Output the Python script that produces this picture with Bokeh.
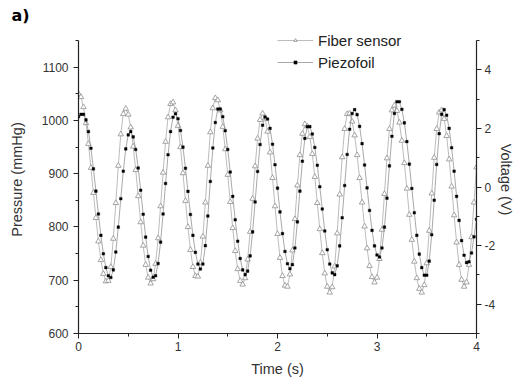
from bokeh.plotting import figure
from bokeh.models import (Range1d, LinearAxis, SingleIntervalTicker, Legend,
                          LegendItem, CustomJSTickFormatter)
from bokeh.embed import file_html
from bokeh.resources import INLINE

# ---------------- data ----------------
time_s = [
    0.0, 0.025, 0.05, 0.075, 0.1, 0.125, 0.15, 0.175, 0.2, 0.225,
    0.25, 0.275, 0.3, 0.325, 0.35, 0.375, 0.4, 0.425, 0.45, 0.475,
    0.5, 0.525, 0.55, 0.575, 0.6, 0.625, 0.65, 0.675, 0.7, 0.725,
    0.75, 0.775, 0.8, 0.825, 0.85, 0.875, 0.9, 0.925, 0.95, 0.975,
    1.0, 1.025, 1.05, 1.075, 1.1, 1.125, 1.15, 1.175, 1.2, 1.225,
    1.25, 1.275, 1.3, 1.325, 1.35, 1.375, 1.4, 1.425, 1.45, 1.475,
    1.5, 1.525, 1.55, 1.575, 1.6, 1.625, 1.65, 1.675, 1.7, 1.725,
    1.75, 1.775, 1.8, 1.825, 1.85, 1.875, 1.9, 1.925, 1.95, 1.975,
    2.0, 2.025, 2.05, 2.075, 2.1, 2.125, 2.15, 2.175, 2.2, 2.225,
    2.25, 2.275, 2.3, 2.325, 2.35, 2.375, 2.4, 2.425, 2.45, 2.475,
    2.5, 2.525, 2.55, 2.575, 2.6, 2.625, 2.65, 2.675, 2.7, 2.725,
    2.75, 2.775, 2.8, 2.825, 2.85, 2.875, 2.9, 2.925, 2.95, 2.975,
    3.0, 3.025, 3.05, 3.075, 3.1, 3.125, 3.15, 3.175, 3.2, 3.225,
    3.25, 3.275, 3.3, 3.325, 3.35, 3.375, 3.4, 3.425, 3.45, 3.475,
    3.5, 3.525, 3.55, 3.575, 3.6, 3.625, 3.65, 3.675, 3.7, 3.725,
    3.75, 3.775, 3.8, 3.825, 3.85, 3.875, 3.9, 3.925, 3.95, 3.975,
    4.0,
]

fiber_mmHg = [
    1050, 1044, 1025, 995, 956, 911, 864, 817, 773, 738, 712, 698,
    699, 725, 778, 845, 915, 974, 1012,
    1022, 1011, 987, 951, 907, 858, 809, 765, 729, 705, 694,
    702, 731, 779, 839, 902, 960, 1006, 1031,
    1034, 1019, 990, 950, 901, 849, 800, 757, 725, 708,
    707, 733, 782, 846, 915, 978, 1023, 1042,
    1038, 1019, 988, 946, 898, 847, 798, 755, 721, 699,
    692, 704, 739, 791, 853, 914, 966, 1001, 1013,
    1004, 979, 940, 892, 839, 787, 742, 708, 690,
    688, 711, 756, 815, 878, 935, 975, 993,
    989, 969, 937, 894, 845, 796, 751, 713, 688, 677,
    687, 726, 788, 861, 931, 984, 1012,
    1013, 998, 972, 935, 892, 846, 801, 760, 727, 706, 696,
    705, 740, 795, 862, 929, 984, 1019,
    1028, 1018, 996, 962, 920, 872, 823, 776, 735, 704, 684, 677,
    691, 732, 793, 863, 930, 984, 1015,
    1019, 1003, 971, 927, 876, 822, 771, 729, 701, 688,
    696, 729, 781, 846, 912,
]

piezo_V = [
    2.40, 2.48, 2.48, 2.29, 1.89, 1.32, 0.62, -0.14, -0.92, -1.65, -2.28, -2.75, -3.03,
    -3.09, -2.83, -2.22, -1.37, -0.40, 0.54, 1.30, 1.78,
    1.89, 1.71, 1.28, 0.65, -0.11, -0.93, -1.71, -2.37, -2.84, -3.08,
    -3.03, -2.61, -1.88, -0.92, 0.12, 1.10, 1.89, 2.38,
    2.50, 2.33, 1.93, 1.36, 0.64, -0.15, -0.94, -1.65, -2.23, -2.63, -2.80,
    -2.63, -2.00, -0.99, 0.19, 1.33, 2.20, 2.66,
    2.66, 2.40, 1.92, 1.28, 0.51, -0.32, -1.12, -1.85, -2.44, -2.83, -2.99,
    -2.87, -2.35, -1.53, -0.51, 0.53, 1.45, 2.11, 2.39,
    2.32, 2.00, 1.46, 0.76, -0.04, -0.85, -1.59, -2.20, -2.62, -2.79,
    -2.65, -2.08, -1.19, -0.14, 0.88, 1.66, 2.06,
    2.06, 1.81, 1.35, 0.74, 0.01, -0.75, -1.50, -2.14, -2.63, -2.93,
    -2.99, -2.69, -2.01, -1.05, 0.05, 1.11, 1.97, 2.51,
    2.64, 2.47, 2.07, 1.48, 0.75, -0.03, -0.80, -1.48, -2.01, -2.32,
    -2.39, -2.08, -1.37, -0.38, 0.72, 1.73, 2.51, 2.91,
    2.91, 2.65, 2.19, 1.55, 0.78, -0.05, -0.88, -1.65, -2.29, -2.75, -3.01,
    -3.01, -2.53, -1.63, -0.45, 0.77, 1.82, 2.48,
    2.64, 2.45, 2.00, 1.34, 0.54, -0.32, -1.14, -1.83, -2.33, -2.58,
    -2.55, -2.25, -1.70, -1.10,
]

series_labels = ["Fiber sensor", "Piezofoil"]
x_label = "Time (s)"
y_left_label = "Pressure (mmHg)"
y_right_label = "Voltage (V)"
panel_tag = "a)"
left_axis_span = (600, 1150)
right_axis_span = (-5, 5)

# ---------------- figure ----------------
FONT = "Liberation Sans"
# frame runs from y=25 to y=333; axis lines are bounded to the reference's extent
extra = 308 / 293
p = figure(width=517, height=381, output_backend="svg", toolbar_location=None,
           x_range=Range1d(0, 4),
           y_range=Range1d(600, 600 + 550 * extra),
           min_border_left=78, min_border_right=41, min_border_top=25,
           min_border_bottom=48)
p.xgrid.visible = False
p.ygrid.visible = False
p.outline_line_color = None
p.background_fill_color = "white"
p.border_fill_color = "white"

p.title.text = panel_tag
p.title.align = "left"
p.title.offset = -67
p.title.standoff = 1
p.title.text_font = "DejaVu Sans"
p.title.text_font_style = "bold"
p.title.text_font_size = "16px"
p.title.text_color = "black"

p.xaxis.ticker = SingleIntervalTicker(interval=1, num_minor_ticks=2)
p.yaxis.ticker = SingleIntervalTicker(interval=100, num_minor_ticks=2)
p.yaxis.bounds = left_axis_span
p.xaxis.axis_label = x_label
p.yaxis.axis_label = y_left_label

p.extra_y_ranges = {"volt": Range1d(-5, -5 + 10 * extra)}
ax_r = LinearAxis(y_range_name="volt",
                  ticker=SingleIntervalTicker(interval=2, num_minor_ticks=2),
                  formatter=CustomJSTickFormatter(code="return tick.toString();"),
                  axis_label=y_right_label, bounds=right_axis_span)
p.add_layout(ax_r, "right")

for ax in p.axis:
    ax.axis_line_color = "#222222"
    ax.axis_line_width = 1.2
    ax.major_tick_line_color = "#222222"
    ax.minor_tick_line_color = "#222222"
    ax.major_tick_in = 0
    ax.major_tick_out = 5
    ax.minor_tick_in = 0
    ax.minor_tick_out = 3
    ax.major_label_text_font = FONT
    ax.major_label_text_font_size = "12px"
    ax.major_label_text_color = "#333333"
    ax.axis_label_text_font = FONT
    ax.axis_label_text_font_size = "14.5px"
    ax.axis_label_text_font_style = "normal"
    ax.axis_label_text_color = "#333333"
    ax.major_label_standoff = 5

p.xaxis.axis_label_standoff = 7
p.xaxis.major_label_standoff = 3
p.yaxis[0].axis_label_standoff = 14
ax_r.major_label_standoff = 3
ax_r.axis_label_standoff = 0

fiber_line = p.line(time_s, fiber_mmHg, line_color="#ababab", line_width=0.8)
fiber_pts = p.scatter(time_s, fiber_mmHg, marker="triangle", size=5.5,
                      fill_color="white", line_color="#8f8f8f", line_width=0.8)
piezo_line = p.line(time_s, piezo_V, y_range_name="volt",
                    line_color="#939393", line_width=0.8)
piezo_pts = p.scatter(time_s, piezo_V, y_range_name="volt", marker="square",
                      size=2.6, fill_color="black", line_color="black",
                      line_width=0.4)

legend = Legend(items=[
    LegendItem(label=series_labels[0], renderers=[fiber_line, fiber_pts]),
    LegendItem(label=series_labels[1], renderers=[piezo_line, piezo_pts]),
], location=(199, 261))
legend.padding = 0
legend.margin = 0
legend.spacing = 2
legend.glyph_width = 36
legend.glyph_height = 8
legend.label_height = 20
legend.label_standoff = 5
legend.label_text_font = FONT
legend.label_text_font_size = "15px"
legend.label_text_color = "#222222"
legend.border_line_color = None
legend.background_fill_alpha = 0
p.add_layout(legend)

open("out.html", "w").write(file_html(p, INLINE))
